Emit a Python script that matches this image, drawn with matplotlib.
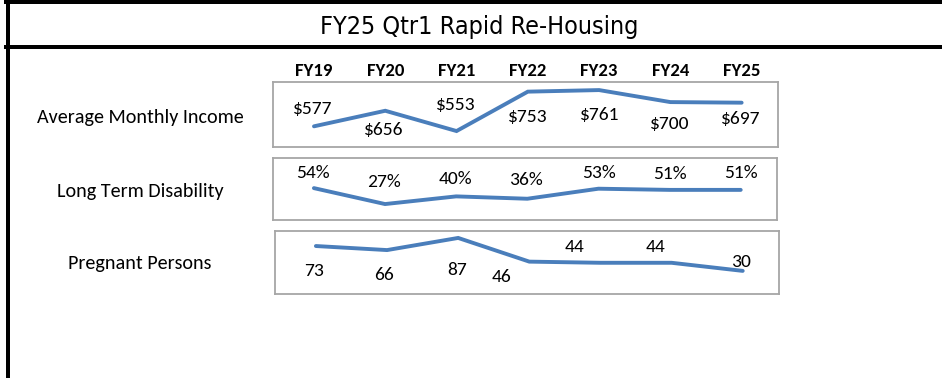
import matplotlib
matplotlib.use("Agg")
import matplotlib.pyplot as plt
from matplotlib.lines import Line2D

W, H = 942, 378
DPI = 100

title = "FY25 Qtr1 Rapid Re-Housing"
years = ["FY19", "FY20", "FY21", "FY22", "FY23", "FY24", "FY25"]
row_names = ["Average Monthly Income", "Long Term Disability", "Pregnant Persons"]

income = [577, 656, 553, 753, 761, 700, 697]
disability = [54, 27, 40, 36, 53, 51, 51]
pregnant = [73, 66, 87, 46, 44, 44, 30]

income_labels = [f"${v}" for v in income]
disability_labels = [f"{v}%" for v in disability]
pregnant_labels = [f"{v}" for v in pregnant]

# label offsets (dx, dy) in pixels from each point, y pointing down
income_off = [(-1, -17), (-2, 19), (-1, -26), (0, 25), (1, 25), (-1, 22), (-1, 16)]
disability_off = [(-1, -15), (-1, -22), (-1, -17), (-1, -19), (1, -16), (0, -16), (0, -17)]
pregnant_off = [(-2, 25), (-3, 25), (-1, 32), (-28, 15), (-26, -16), (-16, -16), (-2, -9)]

LINE_COLOR = "#4a7ebb"
BOX_COLOR = "#a6a6a6"
LABEL_FONT = ["Carlito", "Lato", "DejaVu Sans"]

fig = plt.figure(figsize=(W / DPI, H / DPI), dpi=DPI)


def fx(px):
    return px / W


def fy(py):
    return 1 - py / H


# frame lines
lw_frame = 4 * 72 / DPI
fig.add_artist(Line2D([fx(6), 1], [fy(2), fy(2)], color="black", lw=lw_frame))
fig.add_artist(Line2D([fx(6), 1], [fy(47), fy(47)], color="black", lw=lw_frame))
fig.add_artist(Line2D([fx(7.5), fx(7.5)], [0, 1], color="black", lw=lw_frame))

fig.text(fx(479), fy(27), title, ha="center", va="center", fontsize=18,
         family=["DejaVu Sans"], fontstretch="condensed")

panels = [
    (income, income_labels, income_off, (273, 82, 778, 147), (472, 802)),
    (disability, disability_labels, disability_off, (273, 158, 777, 220), (0, 105)),
    (pregnant, pregnant_labels, pregnant_off, (275, 231, 779, 294), (-10, 99)),
]
row_y = [117, 191, 264]

for k, (vals, labs, offs, (x0, y0, x1, y1), ylim) in enumerate(panels):
    ax = fig.add_axes([fx(x0), fy(y1), (x1 - x0) / W, (y1 - y0) / H])
    xs = list(range(len(vals)))
    ax.plot(xs, vals, color=LINE_COLOR, lw=2.8, solid_capstyle="round",
            solid_joinstyle="miter")
    ax.set_xlim(-0.575, 6.51)
    ax.set_ylim(*ylim)
    ax.set_yticks([])
    for s in ax.spines.values():
        s.set_color(BOX_COLOR)
        s.set_linewidth(1.3)
    if k == 0:
        ax.xaxis.tick_top()
        ax.set_xticks(xs)
        ax.set_xticklabels(years, fontsize=13.5, fontweight="bold", family=LABEL_FONT)
        ax.tick_params(axis="x", length=0, pad=2)
    else:
        ax.set_xticks([])
    for x, v, t, (dx, dy) in zip(xs, vals, labs, offs):
        ax.annotate(t, (x, v), xytext=(dx * 72 / DPI, -dy * 72 / DPI),
                    textcoords="offset points", ha="center", va="center",
                    fontsize=14, family=LABEL_FONT, color="black",
                    annotation_clip=False)
    fig.text(fx(140), fy(row_y[k]), row_names[k], ha="center", va="center",
             fontsize=14.5, family=LABEL_FONT)

fig.savefig("out.png", dpi=DPI)
